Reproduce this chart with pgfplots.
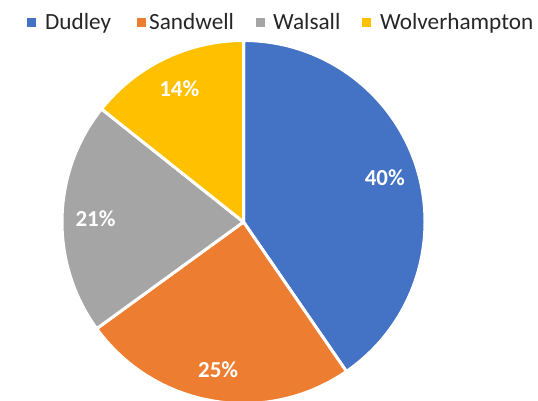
\documentclass[border=0pt]{standalone}
\usepackage{pgfplots}
\usepackage{pgfplotstable}
\pgfplotsset{compat=1.18}
\usepackage{fontspec}
\setmainfont{Carlito}
\definecolor{cA}{HTML}{4472C4}
\definecolor{cB}{HTML}{ED7D31}
\definecolor{cC}{HTML}{A5A5A5}
\definecolor{cD}{HTML}{FFC000}
\definecolor{txt}{HTML}{262626}
\pgfplotstableread{
name value
Dudley 40.4
Sandwell 24.6
Walsall 20.7
Wolverhampton 14.3
}\piedata
\begin{document}
\begin{tikzpicture}
\pgfplotstablegetelem{0}{value}\of\piedata \let\vA\pgfplotsretval
\pgfplotstablegetelem{1}{value}\of\piedata \let\vB\pgfplotsretval
\pgfplotstablegetelem{2}{value}\of\piedata \let\vC\pgfplotsretval
\pgfplotstablegetelem{3}{value}\of\piedata \let\vD\pgfplotsretval
\pgfmathsetmacro\aA{90}
\pgfmathsetmacro\aB{\aA-3.6*\vA}
\pgfmathsetmacro\aC{\aB-3.6*\vB}
\pgfmathsetmacro\aD{\aC-3.6*\vC}
\pgfmathsetmacro\aE{\aD-3.6*\vD}
\pgfmathsetmacro\mA{(\aA+\aB)/2}
\pgfmathsetmacro\mB{(\aB+\aC)/2}
\pgfmathsetmacro\mC{(\aC+\aD)/2}
\pgfmathsetmacro\mD{(\aD+\aE)/2}
\pgfmathtruncatemacro\pA{round(\vA)}
\pgfmathtruncatemacro\pB{round(\vB)}
\pgfmathtruncatemacro\pC{round(\vC)}
\pgfmathtruncatemacro\pD{round(\vD)}
\begin{axis}[width=538bp,height=401bp,scale only axis,
  xmin=0,xmax=538,ymin=0,ymax=401,hide axis,clip=false]
\fill[cA,draw=white,line width=3bp,line join=round] (axis cs:243.5,179) -- ++(\aA:181.5bp) arc[start angle=\aA,end angle=\aB,radius=181.5bp] -- cycle;
\fill[cB,draw=white,line width=3bp,line join=round] (axis cs:243.5,179) -- ++(\aB:181.5bp) arc[start angle=\aB,end angle=\aC,radius=181.5bp] -- cycle;
\fill[cC,draw=white,line width=3bp,line join=round] (axis cs:243.5,179) -- ++(\aC:181.5bp) arc[start angle=\aC,end angle=\aD,radius=181.5bp] -- cycle;
\fill[cD,draw=white,line width=3bp,line join=round] (axis cs:243.5,179) -- ++(\aD:181.5bp) arc[start angle=\aD,end angle=\aE,radius=181.5bp] -- cycle;
\tikzset{pl/.style={white,font=\bfseries\fontsize{23}{27}\selectfont}}
\path (axis cs:243.5,179) ++(\mA:148bp) node[pl] {\pA\%};
\path (axis cs:243.5,179) ++(\mB:150bp) node[pl] {\pB\%};
\path (axis cs:243.5,179) ++(\mC:148bp) node[pl] {\pC\%};
\path (axis cs:243.5,179) ++(\mD:148bp) node[pl] {\pD\%};
\tikzset{lg/.style={txt,anchor=base west,inner sep=0pt,font=\fontsize{23.3}{27}\selectfont}}
\fill[cA] (axis cs:27,374) rectangle (axis cs:35.5,382.5);
\node[lg] at (axis cs:45,371) {Dudley};
\fill[cB] (axis cs:137,374) rectangle (axis cs:145.5,382.5);
\node[lg] at (axis cs:149,371) {Sandwell};
\fill[cC] (axis cs:256,374) rectangle (axis cs:264.5,382.5);
\node[lg] at (axis cs:273,371) {Walsall};
\fill[cD] (axis cs:362,374) rectangle (axis cs:370.5,382.5);
\node[lg] at (axis cs:380,371) {Wolverhampton};
\end{axis}
\pgfresetboundingbox
\useasboundingbox (current axis.south west) rectangle (current axis.north east);
\end{tikzpicture}
\end{document}
